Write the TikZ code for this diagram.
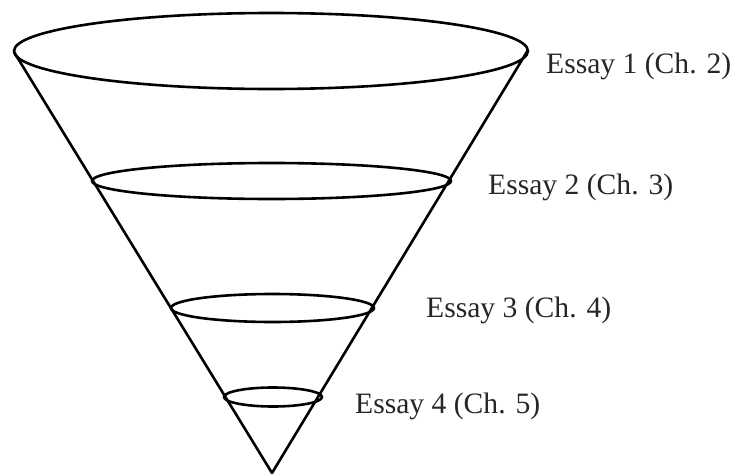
\documentclass[tikz,border=0pt]{standalone}
\usepackage{fontspec}
\setmainfont{Liberation Serif}
\tikzset{
  conestroke/.style={line width=2.6pt, black},
  essaylabel/.style={anchor=base west, inner sep=0pt, text=black!85, font=\fontsize{29.6}{33}\selectfont}
}
\begin{document}
\begin{tikzpicture}[x=1pt,y=-1pt]
\useasboundingbox (0,0) rectangle (734,474);
% cone rims
\coordinate (topL) at (14,52);
\coordinate (topR) at (528,50);
\coordinate (apex) at (272,473);
\draw[conestroke] (271,51) ellipse [x radius=257, y radius=38];
\draw[conestroke] (271.5,181) ellipse [x radius=179.5, y radius=18];
\draw[conestroke] (272.5,308) ellipse [x radius=101.5, y radius=14];
\draw[conestroke] (273,397) ellipse [x radius=49, y radius=9.5];
\draw[conestroke, line join=miter] (topL) -- (apex) -- (topR);
% labels
\node[essaylabel] (e1) at (546,73) {Essay 1 (Ch. 2)};
\node[essaylabel] (e2) at (488,194) {Essay 2 (Ch. 3)};
\node[essaylabel] (e3) at (426,317) {Essay 3 (Ch. 4)};
\node[essaylabel] (e4) at (355,413) {Essay 4 (Ch. 5)};
\end{tikzpicture}
\end{document}
